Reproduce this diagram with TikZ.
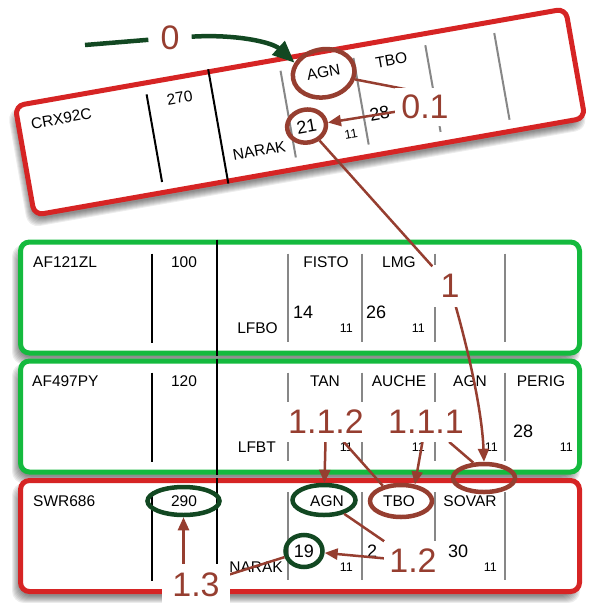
\documentclass[tikz,border=0pt]{standalone}
\usepackage{fontspec}
\setmainfont{Liberation Sans}
\usetikzlibrary{shapes.geometric,arrows.meta}
\definecolor{sred}{RGB}{214,36,36}
\definecolor{sgreen}{RGB}{20,186,62}
\definecolor{dkgreen}{RGB}{18,72,34}
\definecolor{brn}{RGB}{150,62,48}
\definecolor{gline}{RGB}{135,135,135}
\pgfdeclarelayer{strips}\pgfdeclarelayer{conn}\pgfsetlayers{strips,conn,main}
\tikzset{
 txt/.style={font=\fontsize{15.5}{18}\selectfont, inner sep=0pt},
 big/.style={font=\fontsize{18}{20}\selectfont, inner sep=0pt},
 sml/.style={font=\fontsize{12.5}{14}\selectfont, inner sep=0pt},
 lab/.style={font=\fontsize{34}{36}\selectfont, text=brn, fill=white, inner sep=0pt},
 blk/.style={line width=2pt, black},
 gry/.style={line width=2pt, gline},
 stripframe/.style={line width=5pt, rounded corners=9pt, fill=white},
 ring/.style={ellipse, draw, line width=4.5pt, inner sep=0pt},
 brnline/.style={brn, line width=2.5pt},
 brnarrow/.style={brnline, -{Triangle[length=13pt,width=11pt]}},
}
\newcommand{\stripbase}[1]{%
 \foreach \k in {1,...,8}{\fill[black,opacity=0.07,rounded corners=12pt] (-4-276-\k,7-52-\k) rectangle (-4+276+\k,7+52+\k);}
 \draw[stripframe,draw=#1] (-279.5,-55.5) rectangle (279.5,55.5);
 \draw[blk] (-148,-44) -- (-148,45);
 \draw[blk] (-83,-58) -- (-83,58);
 \foreach \gx in {-12,62,135,205} {\draw[gry] (\gx,-44) -- (\gx,44);}
}
\begin{document}
\begin{tikzpicture}[x=1pt,y=-1pt]
\useasboundingbox (0,0) rectangle (590,603);
\begin{pgfonlayer}{strips}
% strip 1
\begin{scope}[shift={(300,112)}, rotate=10, transform shape]
 \stripbase{sred}
 \node[txt, anchor=west] (n1) at (-267,-35) {CRX92C};
 \node[txt] (a1) at (-116,-35) {270};
 \node[txt, anchor=east] (d1) at (-20,31) {NARAK};
 \node[txt] (w1a) at (30,-35) {AGN};
 \node[txt] (w1b) at (99,-35) {TBO};
 \node[big] (t1a) at (4,15) {21};
 \node[sml, anchor=east] (s1a) at (53,31) {11};
 \node[big, anchor=west] (t1b) at (68,15) {28};
 \node[ring, brn, minimum width=39pt, minimum height=33pt] (c21) at (4,15) {};
 \node[ring, brn, minimum width=62pt, minimum height=48pt] (eAGN1) at (30,-34) {};
\end{scope}
% strip 2
\begin{scope}[shift={(300,297.5)}]
 \stripbase{sgreen}
 \node[txt, anchor=west] (n2) at (-267,-35) {AF121ZL};
 \node[txt] (a2) at (-116,-35) {100};
 \node[txt, anchor=east] (d2) at (-22,31) {LFBO};
 \node[txt] (w2a) at (26,-35) {FISTO};
 \node[txt] (w2b) at (99,-35) {LMG};
 \node[big, anchor=west] (t2a) at (-7,15) {14};
 \node[sml, anchor=east] (s2a) at (53,31) {11};
 \node[big, anchor=west] (t2b) at (66,15) {26};
 \node[sml, anchor=east] (s2b) at (125,31) {11};
\end{scope}
% strip 3
\begin{scope}[shift={(300,416.5)}]
 \stripbase{sgreen}
 \node[txt, anchor=west] (n3) at (-268,-35) {AF497PY};
 \node[txt] (a3) at (-116,-35) {120};
 \node[txt, anchor=east] (d3) at (-24,31) {LFBT};
 \node[txt] (w3a) at (25,-35) {TAN};
 \node[txt] (w3b) at (99,-35) {AUCHE};
 \node[txt] (w3c) at (170,-35) {AGN};
 \node[txt] (w3d) at (241,-35) {PERIG};
 \node[sml, anchor=east] (s3a) at (53,31) {11};
 \node[sml, anchor=east] (s3b) at (125,31) {11};
 \node[sml, anchor=east] (s3c) at (198,31) {11};
 \node[big, anchor=west] (t3d) at (213,15) {28};
 \node[sml, anchor=east] (s3d) at (273,31) {11};
\end{scope}
% strip 4
\begin{scope}[shift={(300,536)}]
 \stripbase{sred}
 \node[txt, anchor=west] (n4) at (-267,-35) {SWR686};
 \node[txt] (a4) at (-116,-35) {290};
 \node[txt, anchor=east] (d4) at (-17,31) {NARAK};
 \node[txt] (w4a) at (27,-35) {AGN};
 \node[txt] (w4b) at (99,-35) {TBO};
 \node[txt] (w4c) at (170,-35) {SOVAR};
 \node[big] (t4a) at (4,15) {19};
 \node[sml, anchor=east] (s4a) at (53,31) {11};
 \node[big, anchor=west] (t4b) at (67,15) {2};
 \node[big, anchor=west] (t4c) at (148,15) {30};
 \node[sml, anchor=east] (s4c) at (197,31) {11};
 \node[ring, dkgreen, minimum width=72pt, minimum height=28pt] (e290) at (-116.5,-35) {};
 \node[ring, dkgreen, minimum width=63pt, minimum height=30pt] (eAGN4) at (24,-36) {};
 \node[ring, brn, minimum width=62pt, minimum height=32pt] (eTBO4) at (101,-35) {};
 \node[ring, dkgreen, minimum width=37pt, minimum height=32pt] (c19) at (4,15) {};
\end{scope}
\node[ring, brn, minimum width=62pt, minimum height=28pt] (eslot) at (484,478) {};
\end{pgfonlayer}
% labels
\node[lab, inner xsep=12pt, inner ysep=4pt] (l0) at (170,38) {0};
\node[lab, inner xsep=6pt, inner ysep=7pt] (l01) at (425,107) {0.1};
\node[lab, inner xsep=8pt, inner ysep=9pt] (l1) at (450,286) {1};
\node[lab, inner xsep=4pt, inner ysep=8pt] (l112) at (326,422) {1.1.2};
\node[lab, inner xsep=4pt, inner ysep=8pt] (l111) at (426,422) {1.1.1};
\node[lab, inner xsep=5pt, inner ysep=8pt] (l12) at (413,561) {1.2};
\node[lab, inner xsep=10pt, inner ysep=9pt] (l13) at (196,585) {1.3};
% connectors
\begin{pgfonlayer}{conn}
 \coordinate (s0) at (85,45);
 \draw[dkgreen, line width=4.5pt] (s0) -- (l0);
 \draw[dkgreen, line width=4.5pt, -{Triangle[length=22pt,width=18pt]}] (l0) .. controls (235,34) and (272,42) .. (eAGN1.150);
 \draw[brnarrow] (l01) -- (c21);
 \draw[brnline] ([yshift=14pt]l01.center) -- (eAGN1);
 \draw[brnline] (c21) -- (l1);
 \draw[brnarrow] (l1) .. controls (468,350) and (482,410) .. (eslot.north);
 \draw[brnarrow] (l112) -- (eAGN4);
 \draw[brnline] (l112) -- (eTBO4.140);
 \draw[brnarrow] (l111) -- (eTBO4.50);
 \draw[brnline] (l111) -- (eslot.125);
 \draw[brnarrow] (l12) -- (c19);
 \draw[brnline] (l12) -- (eAGN4);
 \draw[brnarrow] (l13.north -| e290.south) -- (e290.south);
 \draw[brnline] (l13) -- (c19);
\end{pgfonlayer}
\end{tikzpicture}
\end{document}
